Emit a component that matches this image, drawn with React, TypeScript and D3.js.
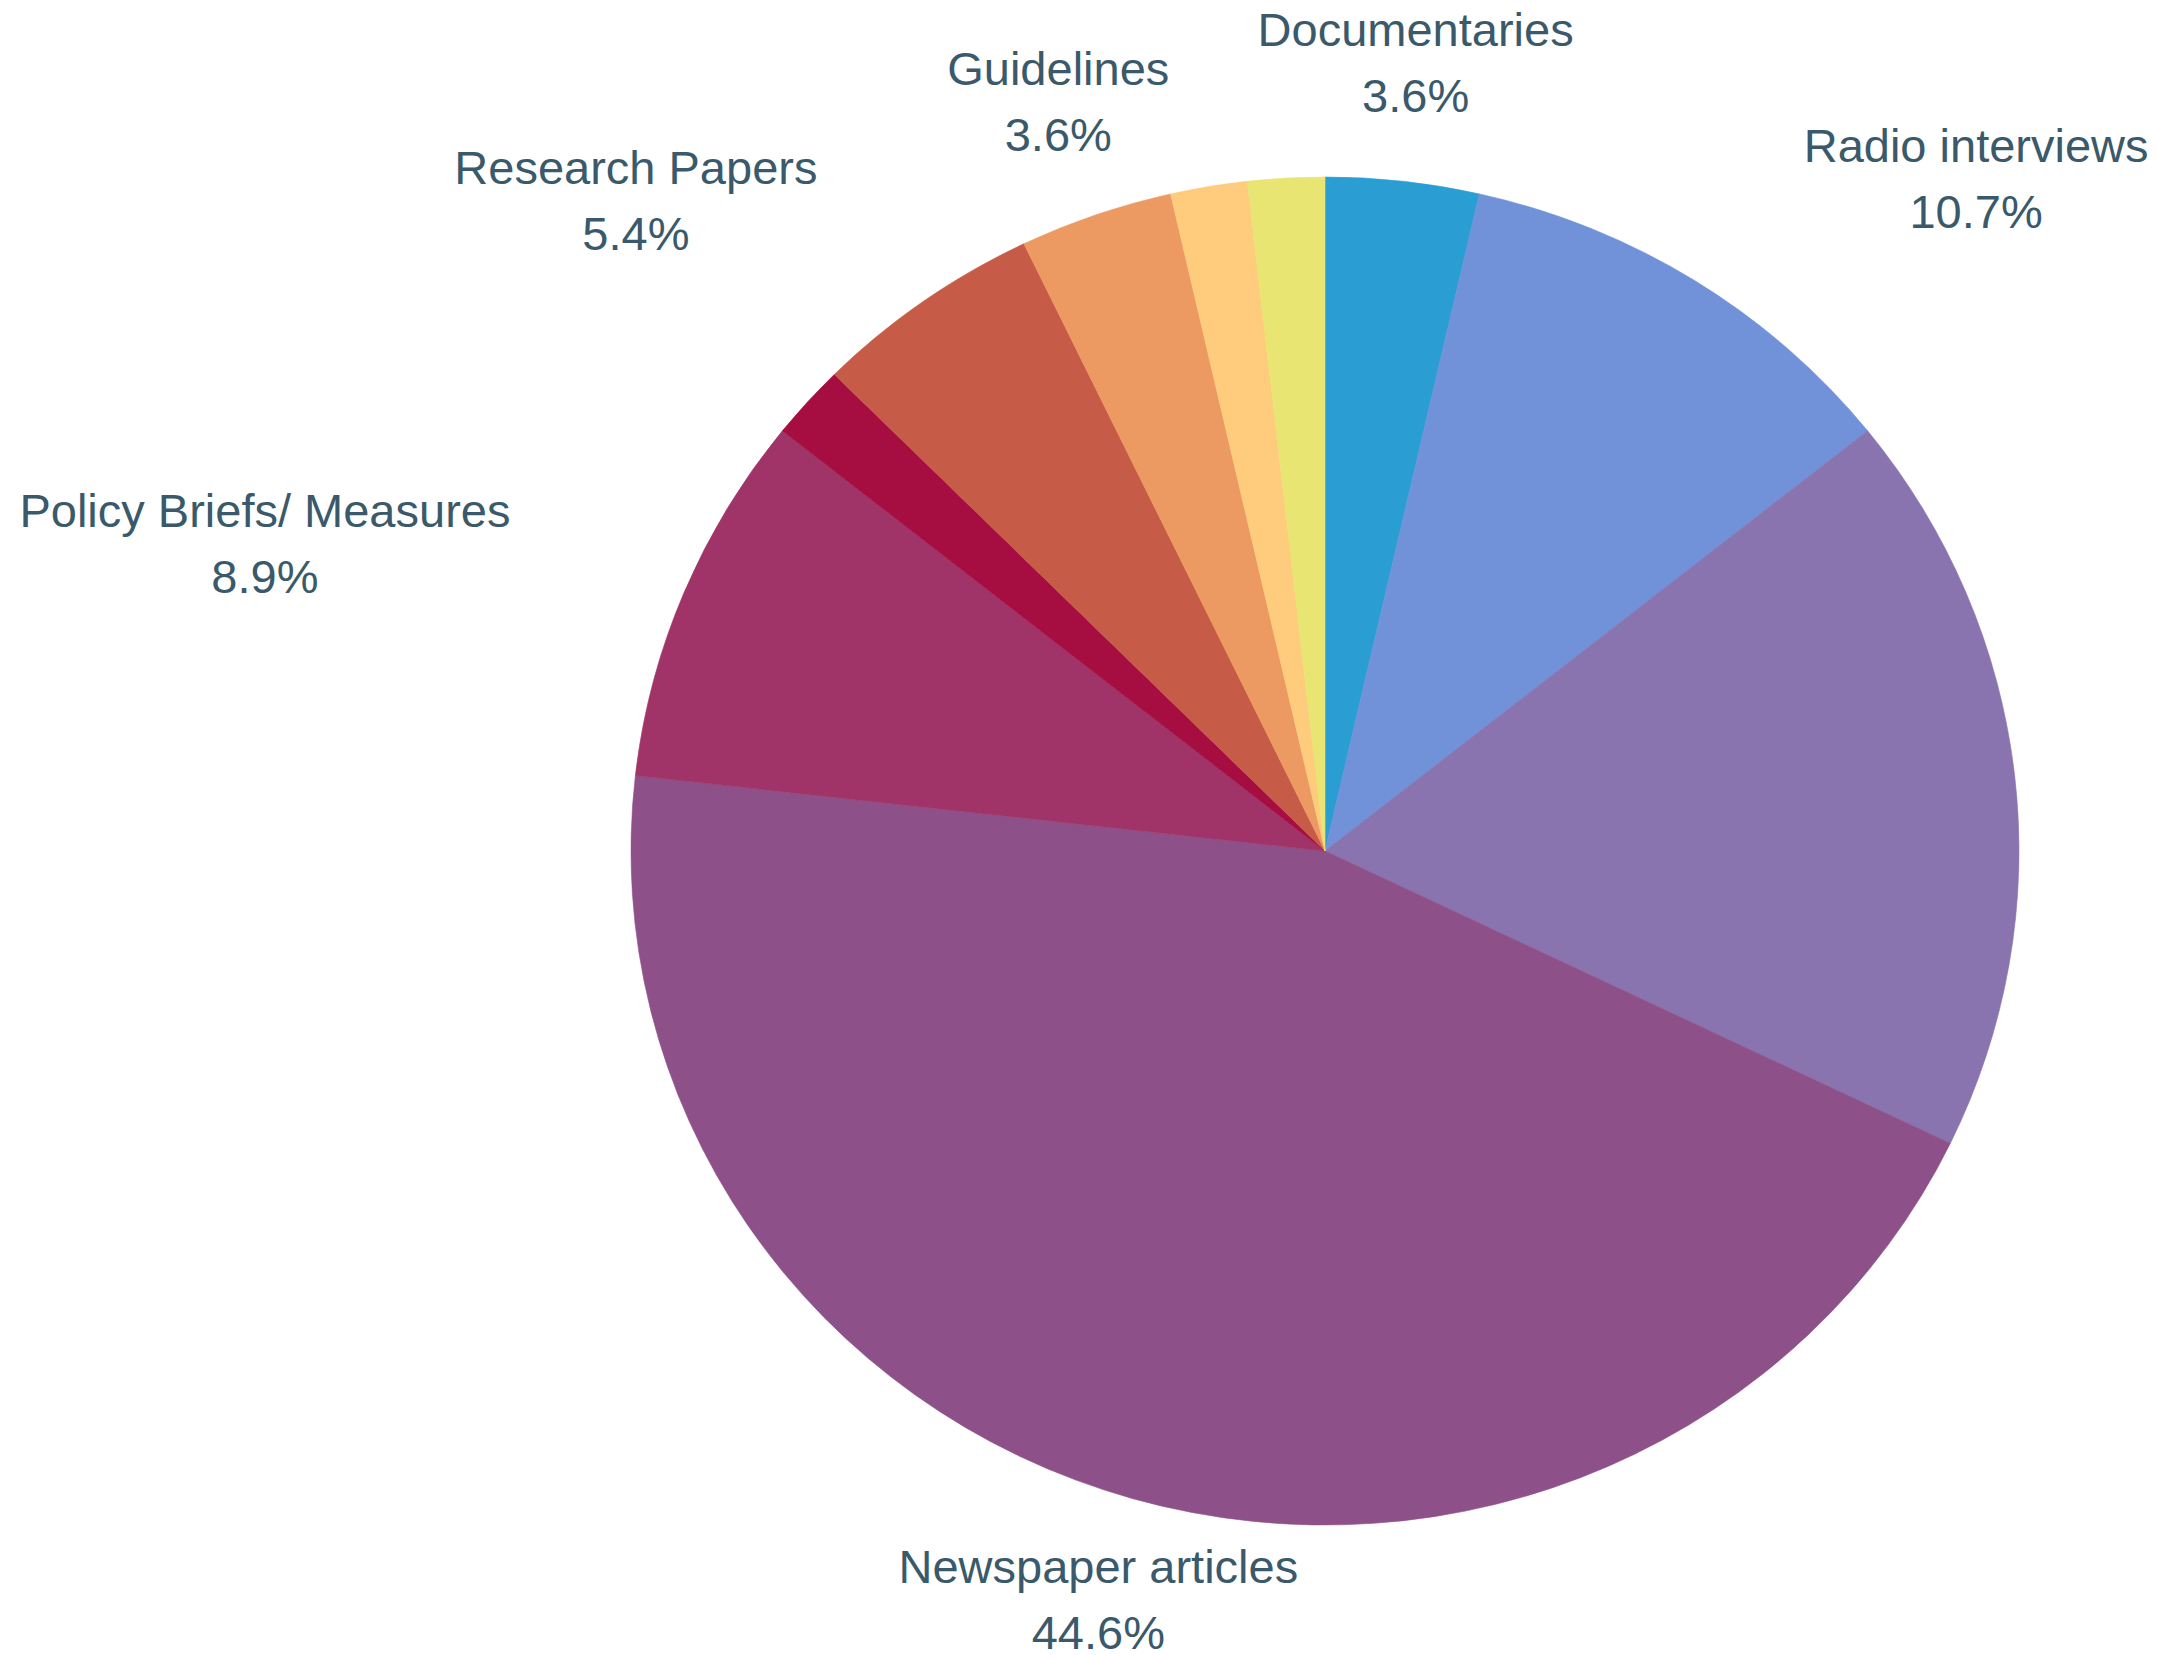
import React from "react";
import * as d3 from "d3";

// ---- data ----
const categories = [
  "Documentaries",
  "Radio interviews",
  "",
  "Newspaper articles",
  "Policy Briefs/ Measures",
  "",
  "Research Papers",
  "Guidelines",
  "",
  "",
];
const counts = [2, 6, 10, 25, 5, 1, 3, 2, 1, 1];
const colors = [
  "#2a9ed3",
  "#7191d9",
  "#8974b0",
  "#8e5088",
  "#a03468",
  "#a60e41",
  "#c65b47",
  "#ec9a62",
  "#fecc7c",
  "#e9e573",
];
// label placement (polar, degrees clockwise from top; distance in radius units)
const labelAngles = [6.7, 44.8, null, 196.5, 285.35, null, 312.6, 340.0, null, null];
const labelDists = [1.153, 1.371, null, 1.184, 1.631, null, 1.389, 1.157, null, null];

const W = 2157;
const H = 1655;
const CX = 1325;
const CY = 851;
const RY = 674;
const RX = 694;

export default function App() {
  const total = d3.sum(counts);
  const pie = d3
    .pie<number>()
    .sort(null)
    .value((d) => d)
    .startAngle(0)
    .endAngle(2 * Math.PI);
  const arcs = pie(counts);
  const arc = d3.arc<d3.PieArcDatum<number>>().innerRadius(0).outerRadius(RY);
  const fmt = d3.format(".1f");
  const textColor = "#3a5a6b";
  const fontSize = 47;
  const lineGap = 66;

  return (
    <svg
      width={W}
      height={H}
      style={{ position: "absolute", left: 0, top: 0, background: "#fff" }}
      fontFamily="'Liberation Sans', Arial, sans-serif"
    >
      <g transform={`translate(${CX},${CY}) scale(${RX / RY},1)`}>
        {arcs.map((a, i) => (
          <path key={i} d={arc(a) || ""} fill={colors[i]} stroke={colors[i]} strokeWidth={0.6} />
        ))}
      </g>
      <g>
        {arcs.map((a, i) => {
          const ang = labelAngles[i];
          const dist = labelDists[i];
          if (ang == null || dist == null || !categories[i]) return null;
          const t = (ang * Math.PI) / 180;
          const x = CX + Math.sin(t) * dist * RY;
          const y = CY - Math.cos(t) * dist * RY;
          return (
            <text key={i} x={x} y={y} textAnchor="middle" fill={textColor} fontSize={fontSize}>
              <tspan x={x} y={y - lineGap / 2}>
                {categories[i]}
              </tspan>
              <tspan x={x} y={y + lineGap / 2}>
                {fmt((a.value / total) * 100) + "%"}
              </tspan>
            </text>
          );
        })}
      </g>
    </svg>
  );
}
